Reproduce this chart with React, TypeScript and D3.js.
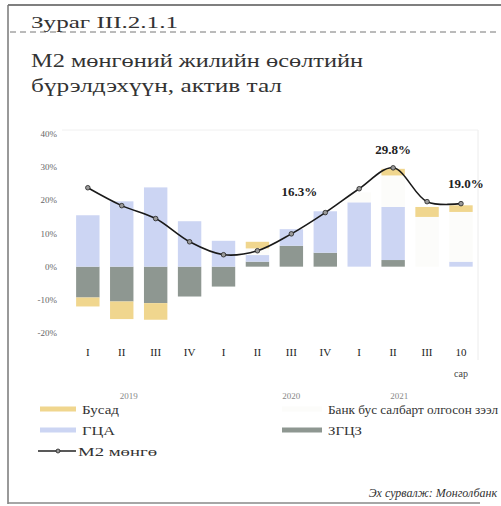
import { useEffect, useRef } from 'react';
import * as d3 from 'd3';

const categories = ['I', 'II', 'III', 'IV', 'I', 'II', 'III', 'IV', 'I', 'II', 'III', '10'];
const years = ['2019', '2020', '2021'];
const zgtsz = [-9.3, -10.5, -11, -9, -6, 1.5, 6.3, 4.2, 0, 2, 0, 0];
const gtsa = [15.5, 19.7, 23.9, 13.7, 7.8, 2, 5, 12.5, 19.4, 16, 0, 1.5];
const bankBus = [0, 0, 0, 0, 0, 2, 0, 0, 3, 9.5, 15, 15];
const busad = [-2.7, -5.3, -5, 0, 0, 2, 0, 0, 0, 2, 3, 2];
const m2 = [23.8, 18.4, 14.5, 7.5, 3.6, 4.8, 9.9, 16.3, 23.5, 29.8, 19.6, 19.0];
const yTicks = [40, 30, 20, 10, 0, -10, -20];

const seriesKeys = ['zgtsz', 'gtsa', 'bankBus', 'busad'];
const colors: Record<string, string> = {
  zgtsz: '#8e9791',
  gtsa: '#ccd5f3',
  bankBus: '#fcfcfa',
  busad: '#f0d68e',
};

const App = () => {
  const ref = useRef<SVGSVGElement>(null!);

  useEffect(() => {
    const svg = d3.select(ref.current);
    svg.selectAll('*').remove();
    const serif = 'Liberation Serif, Times New Roman, serif';

    const x = d3.scaleBand<number>().domain(d3.range(categories.length)).range([65.6, 483.2]).padding(0.31);
    const y = d3.scaleLinear().domain([-20, 40]).range([333, 134]);
    const cx = (i: number) => (x(i) ?? 0) + x.bandwidth() / 2;

    // frame
    svg.append('line').attr('x1', 8).attr('x2', 501).attr('y1', 5).attr('y2', 5).attr('stroke', '#555').attr('stroke-width', 1.5);
    svg.append('line').attr('x1', 8).attr('x2', 8).attr('y1', 5).attr('y2', 504).attr('stroke', '#777').attr('stroke-width', 1.5);
    svg.append('line').attr('x1', 8).attr('x2', 480).attr('y1', 503).attr('y2', 503).attr('stroke', '#888').attr('stroke-width', 1.5);
    svg.append('line').attr('x1', 10).attr('x2', 500).attr('y1', 32).attr('y2', 32).attr('stroke', '#777').attr('stroke-dasharray', '6,4');

    // titles
    svg.append('text').attr('x', 31).attr('y', 28).attr('font-family', serif).attr('font-size', 17).attr('fill', '#333')
      .attr('textLength', 147).attr('lengthAdjust', 'spacingAndGlyphs').text('Зураг III.2.1.1');
    svg.append('text').attr('x', 31).attr('y', 67).attr('font-family', serif).attr('font-size', 19).attr('fill', '#333')
      .attr('textLength', 332).attr('lengthAdjust', 'spacingAndGlyphs').text('М2 мөнгөний жилийн өсөлтийн');
    svg.append('text').attr('x', 31).attr('y', 92).attr('font-family', serif).attr('font-size', 19).attr('fill', '#333')
      .attr('textLength', 251).attr('lengthAdjust', 'spacingAndGlyphs').text('бүрэлдэхүүн, актив тал');

    // plot border (faint)
    svg.append('line').attr('x1', 478).attr('x2', 478).attr('y1', 130).attr('y2', 360).attr('stroke', '#ececec');
    svg.append('line').attr('x1', 62).attr('x2', 478).attr('y1', 130).attr('y2', 130).attr('stroke', '#f0f0f0');

    // y axis labels
    svg.append('g').selectAll('text').data(yTicks).enter().append('text')
      .attr('x', 57).attr('y', d => y(d) + 3).attr('text-anchor', 'end')
      .attr('font-family', serif).attr('font-size', 9).attr('fill', '#666')
      .text(d => `${d}%`);

    // stacked bars
    const rows = categories.map((c, i) => ({ i, zgtsz: zgtsz[i], gtsa: gtsa[i], bankBus: bankBus[i], busad: busad[i] }));
    const stack = d3.stack<any>().keys(seriesKeys).offset(d3.stackOffsetDiverging);
    const layers = stack(rows);
    const g = svg.append('g');
    layers.forEach(layer => {
      g.append('g').attr('fill', colors[layer.key]).selectAll('rect').data(layer).enter().append('rect')
        .attr('x', (d: any) => x(d.data.i) ?? 0)
        .attr('width', x.bandwidth())
        .attr('y', (d: any) => y(Math.max(d[0], d[1])))
        .attr('height', (d: any) => Math.abs(y(d[0]) - y(d[1])));
    });

    // line
    const line = d3.line<number>().x((d, i) => cx(i)).y(d => y(d)).curve(d3.curveCatmullRom.alpha(0.5));
    svg.append('path').datum(m2).attr('d', line).attr('fill', 'none').attr('stroke', '#1a1a1a').attr('stroke-width', 1.6);
    svg.append('g').selectAll('circle').data(m2).enter().append('circle')
      .attr('cx', (d, i) => cx(i)).attr('cy', d => y(d)).attr('r', 2.3)
      .attr('fill', '#999').attr('stroke', '#222').attr('stroke-width', 0.8);

    // data labels
    const labelIdx = [7, 9, 11];
    const labelPos: Record<number, [number, number, string]> = {
      7: [-8, -17, 'end'],
      9: [0, -14, 'middle'],
      11: [5, -16, 'middle'],
    };
    labelIdx.forEach(i => {
      const [dx, dy, anchor] = labelPos[i];
      svg.append('text').attr('x', cx(i) + dx).attr('y', y(m2[i]) + dy)
        .attr('text-anchor', anchor).attr('font-family', serif).attr('font-size', 13).attr('font-weight', 'bold').attr('fill', '#222')
        .text(`${m2[i].toFixed(1)}%`);
    });

    // x labels
    svg.append('g').selectAll('text').data(categories).enter().append('text')
      .attr('x', (d, i) => cx(i)).attr('y', 356).attr('text-anchor', 'middle')
      .attr('font-family', serif).attr('font-size', 11).attr('fill', '#222')
      .text(d => d);
    svg.append('text').attr('x', cx(11)).attr('y', 377).attr('text-anchor', 'middle')
      .attr('font-family', serif).attr('font-size', 10).attr('fill', '#444').text('сар');

    const yearX = [cx(1) + 7, cx(6), cx(9) + 6];
    years.forEach((yr, k) => {
      svg.append('text').attr('x', yearX[k]).attr('y', 399).attr('text-anchor', 'middle')
        .attr('font-family', serif).attr('font-size', 9).attr('fill', '#888').text(yr);
    });

    // legend
    const leg = svg.append('g').attr('font-family', serif).attr('font-size', 13).attr('fill', '#333');
    const swatch = (x1: number, x2: number, yy: number, color: string) =>
      leg.append('line').attr('x1', x1).attr('x2', x2).attr('y1', yy).attr('y2', yy).attr('stroke', color).attr('stroke-width', 5);
    swatch(40, 76, 409, colors.busad);
    leg.append('text').attr('x', 82).attr('y', 414).attr('textLength', 37).attr('lengthAdjust', 'spacingAndGlyphs').text('Бусад');
    swatch(40, 76, 430, colors.gtsa);
    leg.append('text').attr('x', 82).attr('y', 435).attr('textLength', 33).attr('lengthAdjust', 'spacingAndGlyphs').text('ГЦА');
    leg.append('line').attr('x1', 38).attr('x2', 76).attr('y1', 451).attr('y2', 451).attr('stroke', '#222').attr('stroke-width', 1.4);
    leg.append('circle').attr('cx', 58).attr('cy', 451).attr('r', 2).attr('fill', '#999').attr('stroke', '#222').attr('stroke-width', 0.8);
    leg.append('text').attr('x', 78).attr('y', 456).attr('textLength', 79).attr('lengthAdjust', 'spacingAndGlyphs').text('М2 мөнгө');
    swatch(282, 322, 409, colors.bankBus);
    leg.append('text').attr('x', 328).attr('y', 414).attr('textLength', 170).attr('lengthAdjust', 'spacingAndGlyphs').text('Банк бус салбарт олгосон зээл');
    swatch(282, 322, 430, colors.zgtsz);
    leg.append('text').attr('x', 328).attr('y', 435).attr('textLength', 34).attr('lengthAdjust', 'spacingAndGlyphs').text('ЗГЦЗ');

    svg.append('text').attr('x', 497).attr('y', 497).attr('text-anchor', 'end')
      .attr('font-family', serif).attr('font-size', 12).attr('font-style', 'italic').attr('fill', '#333')
      .text('Эх сурвалж: Монголбанк');

    return () => {
      svg.selectAll('*').remove();
    };
  }, []);

  return <svg ref={ref} width={501} height={506} style={{ position: 'absolute', left: 0, top: 0, background: '#fff' }} />;
};

export default App;
